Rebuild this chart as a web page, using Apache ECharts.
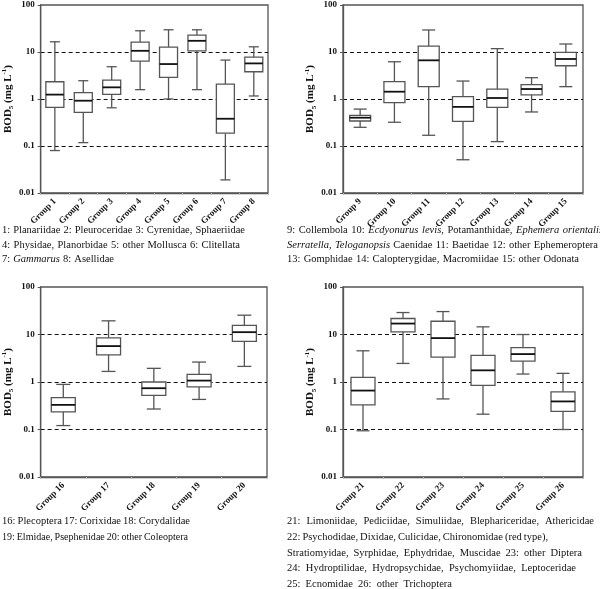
<!DOCTYPE html>
<html><head><meta charset="utf-8">
<script src="https://cdn.jsdelivr.net/npm/echarts@6/dist/echarts.min.js"></script>
<style>html,body{margin:0;padding:0;background:#fff}#c{width:600px;height:589px}</style>
</head><body><div id="c"></div>
<script>
// Categories
const groupsA = ['Group 1','Group 2','Group 3','Group 4','Group 5','Group 6','Group 7','Group 8'];
const groupsB = ['Group 9','Group 10','Group 11','Group 12','Group 13','Group 14','Group 15'];
const groupsC = ['Group 16','Group 17','Group 18','Group 19','Group 20'];
const groupsD = ['Group 21','Group 22','Group 23','Group 24','Group 25','Group 26'];
// Box statistics: [lower whisker, Q1, median, Q3, upper whisker]  (BOD5, mg/L)
const boxA = [
  [0.08, 0.665, 1.24, 2.33, 16.5],
  [0.118, 0.52, 0.92, 1.36, 2.45],
  [0.65, 1.26, 1.77, 2.53, 4.86],
  [1.58, 6.41, 10.6, 16.2, 28.3],
  [1.0, 2.89, 5.54, 12.7, 29.7],
  [1.58, 10.6, 17.3, 22.9, 29.7],
  [0.019, 0.187, 0.38, 2.08, 6.73],
  [1.16, 3.8, 5.72, 7.8, 12.9]
];
const boxB = [
  [0.25, 0.34, 0.40, 0.45, 0.61],
  [0.32, 0.84, 1.43, 2.34, 6.2],
  [0.169, 1.83, 6.65, 13.4, 29.4],
  [0.051, 0.335, 0.68, 1.12, 2.41],
  [0.124, 0.665, 1.05, 1.63, 11.8],
  [0.53, 1.22, 1.63, 2.02, 2.84],
  [1.83, 5.1, 7.1, 9.8, 14.8]
];
const boxC = [
  [0.121, 0.235, 0.33, 0.47, 0.89],
  [1.67, 3.74, 5.7, 8.5, 19.4],
  [0.27, 0.525, 0.74, 1.0, 1.94],
  [0.43, 0.79, 1.07, 1.45, 2.63],
  [2.13, 7.2, 11.2, 15.5, 25.5]
];
const boxD = [
  [0.094, 0.33, 0.66, 1.25, 4.54],
  [2.46, 11.4, 17.0, 21.7, 29.0],
  [0.44, 3.35, 8.4, 19.0, 30.4],
  [0.21, 0.85, 1.76, 3.62, 14.5],
  [1.47, 2.76, 3.87, 5.3, 10.0],
  [0.10, 0.24, 0.39, 0.62, 1.52]
];
const yTicks = ['0.01','0.1','1','10','100'];

// Caption lines (words prefixed with * are italic)
const captionA = [
  '1: Planariidae 2: Pleuroceridae 3: Cyrenidae, Sphaeriidae',
  '4: Physidae, Planorbidae 5: other Mollusca 6: Clitellata',
  '7: *Gammarus 8: Asellidae'
];
const captionB = [
  '9: Collembola 10: *Ecdyonurus *levis, Potamanthidae, *Ephemera *orientalis',
  '*Serratella, *Teloganopsis Caenidae 11: Baetidae 12: other Ephemeroptera',
  '13: Gomphidae 14: Calopterygidae, Macromiidae 15: other Odonata'
];
const captionC = [
  '16: Plecoptera 17: Corixidae 18: Corydalidae',
  '19: Elmidae, Psephenidae 20: other Coleoptera'
];
const captionD = [
  '21: Limoniidae, Pediciidae, Simuliidae, Blephariceridae, Athericidae',
  '22: Psychodidae, Dixidae, Culicidae, Chironomidae (red type),',
  'Stratiomyidae, Syrphidae, Ephydridae, Muscidae 23: other Diptera',
  '24: Hydroptilidae, Hydropsychidae, Psychomyiidae, Leptoceridae',
  '25: Ecnomidae 26: other Trichoptera'
];

const SERIF = '"Liberation Serif","Times New Roman",serif';
const panels = [
  {cats: groupsA, data: boxA, grid: {left: 32, top: 5, width: 236, height: 188}, bw: 18, cw: 10,
   cap: captionA, capX: 2, capY: [230, 245, 259], capEnd: [245, 240, 114]},
  {cats: groupsB, data: boxB, grid: {left: 343, top: 5, width: 240, height: 188}, bw: 21, cw: 13,
   cap: captionB, capX: 287, capY: [230, 245, 259], capEnd: [603, 598, 579]},
  {cats: groupsC, data: boxC, grid: {left: 30, top: 287, width: 237, height: 190}, bw: 24, cw: 14,
   cap: captionC, capX: 2, capY: [521, 537], capEnd: [190, 188]},
  {cats: groupsD, data: boxD, grid: {left: 343, top: 287, width: 240, height: 190}, bw: 24, cw: 13,
   cap: captionD, capX: 287, capY: [521, 537, 553, 568, 584], capEnd: [594, 548, 582, 576, 452]}
];

const grids = [], xAxes = [], yAxes = [], series = [], graphics = [];
const mctx = document.createElement('canvas').getContext('2d');
const FS = 10.5;
function measure(word, italic, fs) {
  mctx.font = (italic ? 'italic ' : '') + fs + 'px ' + SERIF;
  return mctx.measureText(word).width;
}
function layoutLine(line, x0, yc, xEnd) {
  const words = line.split(' ').map(w => ({t: w.replace(/^\*/, ''), it: w[0] === '*'}));
  let fs = FS;
  let sum = words.reduce((s, w) => s + measure(w.t, w.it, fs), 0);
  const minGap = fs * 0.18;
  const target = xEnd - x0;
  if (sum + minGap * (words.length - 1) > target) {
    fs = Math.max(FS * 0.95, fs * target / (sum + minGap * (words.length - 1)));
    sum = words.reduce((s, w) => s + measure(w.t, w.it, fs), 0);
  }
  const gap = words.length > 1 ? Math.max(fs * 0.18, (target - sum) / (words.length - 1)) : 0;
  let x = x0;
  words.forEach(w => {
    graphics.push({type: 'text', x: x, y: yc, silent: true,
      style: {text: w.t, fontFamily: SERIF, fontSize: fs, fontStyle: w.it ? 'italic' : 'normal',
        fill: '#111', textAlign: 'left', textVerticalAlign: 'middle'}});
    x += measure(w.t, w.it, fs) + gap;
  });
}

panels.forEach((p, i) => {
  grids.push(Object.assign({show: true, borderColor: '#555', borderWidth: 1.3, backgroundColor: 'transparent'}, p.grid));
  xAxes.push({
    type: 'category', gridIndex: i, data: p.cats, boundaryGap: true,
    axisLine: {lineStyle: {color: '#555', width: 1.3}},
    axisTick: {show: true, length: 2, lineStyle: {color: '#bbb'}},
    axisLabel: {rotate: 45, fontFamily: SERIF, fontWeight: 'bold', fontSize: 9, color: '#111', margin: 7, interval: 0}
  });
  yAxes.push({
    type: 'log', logBase: 10, gridIndex: i, min: 0.01, max: 100,
    axisLine: {show: true, lineStyle: {color: '#555', width: 1.3}},
    axisTick: {show: true, length: 3, lineStyle: {color: '#555'}},
    axisLabel: {fontFamily: SERIF, fontWeight: 'bold', fontSize: 9, color: '#111', margin: 6,
      formatter: v => { const idx = Math.round(Math.log10(v)) + 2; return yTicks[idx] !== undefined ? yTicks[idx] : ''; }},
    splitLine: {show: true, lineStyle: {color: '#111', type: [4, 3], width: 1.2},
      showMinLine: false, showMaxLine: false},
    name: '{a|BOD}{s|5}{a| (mg L}{p|-1}{a|)}',
    nameLocation: 'middle', nameRotate: 90, nameGap: 21,
    nameTextStyle: {fontFamily: SERIF, fontWeight: 'bold', fontSize: 11, color: '#111',
      rich: {
        a: {fontFamily: SERIF, fontWeight: 'bold', fontSize: 11, color: '#111', lineHeight: 14},
        s: {fontFamily: SERIF, fontWeight: 'bold', fontSize: 7, color: '#111', verticalAlign: 'bottom', lineHeight: 14, padding: [4, 0, 0, 0]},
        p: {fontFamily: SERIF, fontWeight: 'bold', fontSize: 7, color: '#111', verticalAlign: 'top', lineHeight: 14, padding: [0, 0, 4, 0]}
      }}
  });
  const bw = p.bw, cw = p.cw;
  series.push({
    type: 'custom', xAxisIndex: i, yAxisIndex: i,
    data: p.data.map((d, k) => [k].concat(d)),
    encode: {x: 0, y: [1, 2, 3, 4, 5]},
    renderItem: (params, api) => {
      const k = api.value(0);
      const lo = api.coord([k, api.value(1)]);
      const q1 = api.coord([k, api.value(2)]);
      const md = api.coord([k, api.value(3)]);
      const q3 = api.coord([k, api.value(4)]);
      const hi = api.coord([k, api.value(5)]);
      const x = lo[0];
      const gs = {stroke: '#555', lineWidth: 1.3, fill: null};
      return {type: 'group', children: [
        {type: 'line', shape: {x1: x, y1: hi[1], x2: x, y2: q3[1]}, style: gs},
        {type: 'line', shape: {x1: x, y1: q1[1], x2: x, y2: lo[1]}, style: gs},
        {type: 'line', shape: {x1: x - cw / 2, y1: hi[1], x2: x + cw / 2, y2: hi[1]}, style: gs},
        {type: 'line', shape: {x1: x - cw / 2, y1: lo[1], x2: x + cw / 2, y2: lo[1]}, style: gs},
        {type: 'rect', shape: {x: x - bw / 2, y: q3[1], width: bw, height: q1[1] - q3[1]}, style: {stroke: '#555', lineWidth: 1.3, fill: '#fff'}},
        {type: 'line', shape: {x1: x - bw / 2, y1: md[1], x2: x + bw / 2, y2: md[1]}, style: {stroke: '#111', lineWidth: 1.8}}
      ]};
    }
  });
  p.cap.forEach((line, li) => layoutLine(line, p.capX, p.capY[li], p.capEnd[li]));
});

const chart = echarts.init(document.getElementById('c'), null, {renderer: 'canvas'});
chart.setOption({
  animation: false,
  backgroundColor: '#fff',
  grid: grids, xAxis: xAxes, yAxis: yAxes, series: series,
  graphic: graphics
});
</script></body></html>
